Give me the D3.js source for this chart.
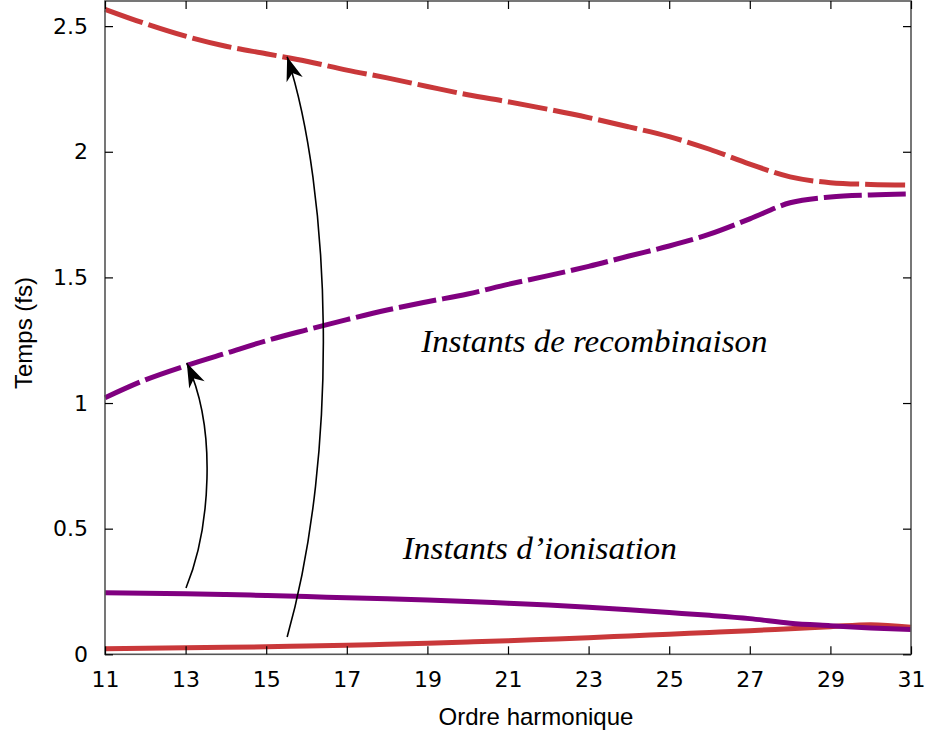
<!DOCTYPE html>
<html>
<head>
<meta charset="utf-8">
<script src="https://cdn.jsdelivr.net/npm/d3@7"></script>
<style>
  html, body { margin: 0; padding: 0; background: #fff; }
  svg { display: block; }
</style>
</head>
<body>
<svg id="chart" width="927" height="736"></svg>
<script>
// Harmonic orders (x) and times in fs (y)
const harmonics = [11,12,13,14,15,16,17,18,19,20,21,22,23,24,25,26,27,28,29,30,31];

// Recombination times, long trajectories (red dashed)
const recombLong = [2.567,2.51,2.46,2.42,2.39,2.36,2.325,2.294,2.26,2.227,2.199,2.169,2.136,2.099,2.06,2.01,1.951,1.900,1.877,1.870,1.867];
// Recombination times, short trajectories (purple dashed)
const recombShort = [1.021,1.092,1.148,1.198,1.248,1.291,1.332,1.37,1.403,1.434,1.472,1.507,1.544,1.585,1.625,1.672,1.733,1.797,1.820,1.828,1.832];
// Ionisation times, short trajectories (purple solid)
const ionShort = [0.245,0.243,0.241,0.238,0.234,0.230,0.225,0.221,0.216,0.210,0.203,0.196,0.187,0.177,0.166,0.155,0.142,0.124,0.114,0.105,0.099];
// Ionisation times, long trajectories (red solid)
const ionLong = [0.022,0.024,0.026,0.028,0.030,0.033,0.036,0.040,0.044,0.049,0.054,0.060,0.066,0.073,0.080,0.087,0.094,0.102,0.110,0.118,0.108];

const xTicks = [11,13,15,17,19,21,23,25,27,29,31];
const yTicks = [0,0.5,1,1.5,2,2.5];

// Arrows linking ionisation to recombination: start, two control points, end (data units)
const arrows = [
  [[13.01,0.264],[13.6,0.495],[13.8,0.893],[13.03,1.159]],
  [[15.52,0.069],[16.83,0.813],[16.6,1.85],[15.52,2.378]]
];

const RED = "#c9383a";
const PURPLE = "#800080";

const W = 927, H = 736;
const margin = {left: 105, right: 16, top: 1, bottom: 81.7};
const svg = d3.select("#chart");

const x = d3.scaleLinear().domain([11,31]).range([margin.left, W - margin.right]);
const y = d3.scaleLinear().domain([0,2.6]).range([H - margin.bottom, margin.top]);

const x0 = x.range()[0], x1 = x.range()[1];
const y0 = y.range()[0], y1 = y.range()[1];

// Curves
const line = d3.line().x(d => x(d[0])).y(d => y(d[1])).curve(d3.curveMonotoneX);
const series = [
  {vals: ionLong, color: RED, dash: null},
  {vals: ionShort, color: PURPLE, dash: null},
  {vals: recombShort, color: PURPLE, dash: "38,6"},
  {vals: recombLong, color: RED, dash: "40,6"}
];
const g = svg.append("g");
series.forEach(s => {
  g.append("path")
    .datum(harmonics.map((h, i) => [h, s.vals[i]]))
    .attr("d", line)
    .attr("fill", "none")
    .attr("stroke", s.color)
    .attr("stroke-width", 5)
    .attr("stroke-dasharray", s.dash)
    .attr("stroke-linejoin", "round");
});

// Arrow marker
svg.append("defs").append("marker")
  .attr("id", "head")
  .attr("markerUnits", "userSpaceOnUse")
  .attr("viewBox", "-26 -10 28 20")
  .attr("refX", 0).attr("refY", 0)
  .attr("markerWidth", 28).attr("markerHeight", 20)
  .attr("orient", "auto")
  .append("path")
  .attr("d", "M0,0 L-24,-8.5 L-17,0 L-24,8.5 Z")
  .attr("fill", "#000");

arrows.forEach(a => {
  const p = a.map(d => [x(d[0]), y(d[1])]);
  const path = d3.path();
  path.moveTo(p[0][0], p[0][1]);
  path.bezierCurveTo(p[1][0], p[1][1], p[2][0], p[2][1], p[3][0], p[3][1]);
  svg.append("path")
    .attr("d", path.toString())
    .attr("fill", "none")
    .attr("stroke", "#000")
    .attr("stroke-width", 1.6)
    .attr("marker-end", "url(#head)");
});

// Frame
svg.append("rect")
  .attr("x", x0).attr("y", y1)
  .attr("width", x1 - x0).attr("height", y0 - y1)
  .attr("fill", "none").attr("stroke", "#555").attr("stroke-width", 1.6);

// Axes with inward ticks, mirrored on top and right
const tickFont = "'DejaVu Sans', sans-serif";
function styleAxis(sel) {
  sel.select(".domain").remove();
  sel.selectAll(".tick line").attr("stroke", "#000").attr("stroke-width", 1.2);
  sel.selectAll(".tick text").attr("font-family", tickFont).attr("font-size", 22).attr("fill", "#000");
}
svg.append("g").attr("transform", `translate(0,${y0})`)
  .call(d3.axisBottom(x).tickValues(xTicks).tickFormat(d3.format("d")).tickSizeInner(-8).tickPadding(17))
  .call(styleAxis);
svg.append("g").attr("transform", `translate(0,${y1})`)
  .call(d3.axisTop(x).tickValues(xTicks).tickFormat("").tickSizeInner(-8))
  .call(styleAxis);
svg.append("g").attr("transform", `translate(${x0},0)`)
  .call(d3.axisLeft(y).tickValues(yTicks).tickFormat(d => String(d)).tickSizeInner(-8).tickPadding(17))
  .call(styleAxis);
svg.append("g").attr("transform", `translate(${x1},0)`)
  .call(d3.axisRight(y).tickValues(yTicks).tickFormat("").tickSizeInner(-8))
  .call(styleAxis);

// Axis titles
svg.append("text")
  .attr("x", 536).attr("y", 725)
  .attr("text-anchor", "middle")
  .attr("font-family", "'Liberation Sans', Arial, sans-serif")
  .attr("font-size", 24)
  .text("Ordre harmonique");
svg.append("text")
  .attr("transform", "translate(32,333) rotate(-90)")
  .attr("text-anchor", "middle")
  .attr("font-family", "'Liberation Sans', Arial, sans-serif")
  .attr("font-size", 24)
  .text("Temps (fs)");

// Annotations
svg.append("text")
  .attr("x", x(18.85)).attr("y", y(1.203))
  .attr("font-family", "'Liberation Serif', 'DejaVu Serif', serif")
  .attr("font-style", "italic")
  .attr("font-size", 32)
  .attr("textLength", 346).attr("lengthAdjust", "spacingAndGlyphs")
  .text("Instants de recombinaison");
svg.append("text")
  .attr("x", x(18.39)).attr("y", y(0.379))
  .attr("font-family", "'Liberation Serif', 'DejaVu Serif', serif")
  .attr("font-style", "italic")
  .attr("font-size", 32)
  .attr("textLength", 274).attr("lengthAdjust", "spacingAndGlyphs")
  .text("Instants d\u2019ionisation");
</script>
</body>
</html>
